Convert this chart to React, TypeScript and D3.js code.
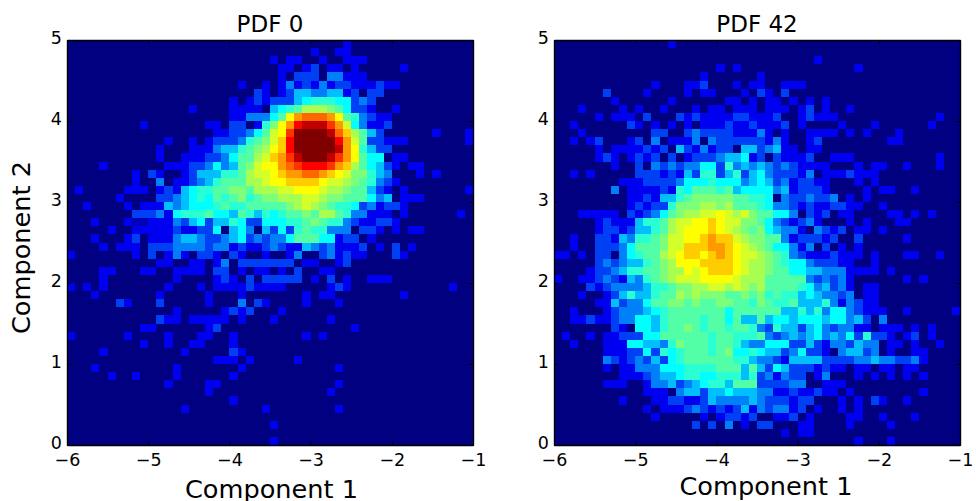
import React, { useEffect, useRef } from "react";
import * as d3 from "d3";

// intensity level per histogram cell, top row first, one base-36 digit per cell (0 = empty, j = peak).
// rows are grouped in tens, missing trailing cells are empty
const pdf0Rows = [
  "0000000000 0000000000 0000000000 0000200000",
  "0000000000 0000000000 0000000000 2002200000",
  "0000000000 0000000000 0000020220 0200222000",
  "0000000000 0000000000 0000002202 3022020000 0200000000",
  "0000000000 0000000000 0000002033 3044222000",
  "0000000000 0000000000 0200202423 2423322232 2000000000",
  "0000000000 0000000000 0003202355 4455230330",
  "0000000000 0000000000 2023233356 7776634300",
  "0000000000 0000020000 222205678a aa98633200 2000000000",
  "0000000000 0000000000 2244468cef ffec874322",
  "0000000002 0000000220 330279cehi iigeb64223",
  "0000000000 0000000022 33468bcgjj jjifda8530 0000020002",
  "0000000000 0020020233 34789bdhjj jjjheb8332 2200000002",
  "0000000000 0200022245 5789acdhjj jjjiec7533",
  "0000000000 0200222334 688abdegij jjigec8660 2200000000",
  "0000200000 0022233464 589bccefgh hhgeda8653 2022000000",
  "0000000020 3200235557 78abbcdeef fedcb99754 0002020000",
  "0000000020 0402234578 88aabccddd dcbba98743 2000000000",
  "0200000222 0232567788 998aaabbcc cbaa988532 0200000002",
  "0000002000 0334567687 897899aaab ba99888645 0222000000",
  "0020000202 2254566678 77888889ab a987763423 3200000000",
  "0000000033 3426777866 5875767889 8aa8744222 0200000020",
  "0002000211 2224356355 7633666778 9877432233 2000000000",
  "0000020022 2223223360 5640536378 7744403320 2022000000",
  "0002000230 2224554334 5634344688 8662330200",
  "0000202220 3334444344 2322343225 4342223020 3020000000",
  "2000000020 3024203320 3200200240 0342322000 3200000000",
  "0000000000 0220022024 0333333302 2002300000",
  "0000220002 2002222033 0202202030 0220000000",
  "0000200000 0002000023 2030333330 2030200222",
  "2020200000 0020002022 2232222000 0023200000 0000000200",
  "0002000000 0200000200 0200000002 0220000000 0200000000",
  "0000003200 0300000200 0403200002 0002000000",
  "0000000000 0002000002 3230002000",
  "0000000000 0322022222 0200020000 0020000000",
  "0000000002 2000000230 0000000000 0000020000",
  "2000000200 0020002200 2000000002 0200000000",
  "0000000002 0020022000 2000000000",
  "0000200000 0000200000 3200000000",
  "0000000000 0000000022 2020000020",
  "0002000000 0002000000 0200000000 0002000000",
  "0000020020 0002000000 2000000000",
  "0000000000 0020000220 0000000000 0002000000",
  "0000000000 0000000200 0000000000 0020000000",
  "0000000000 0000000000 2000000000",
  "0000000000 0000200000 0000200000 0002000000",
  "",
  "0000000000 0000000000 0000020000",
  "",
  "0000000000 0000000000 0000020000",
];

const pdf42Rows = [
  "0000000000 0000200000",
  "",
  "0000000000 0000000000 0000000000 0020000000",
  "0000000000 0000000000 2020000000 0000000200",
  "0000000000 0000000020 0000020000",
  "0000000000 0020002230 0020220022 2000000000",
  "0000003000 0200002022 0002032030",
  "0000000200 0000200000 0220202202 0202000000",
  "0002000020 2002000202 2022202220 2302002000",
  "0000020222 0300032322 2233222300 2322200000 0000000200",
  "0020000003 2020202022 2322322230 2000020002 0000002000",
  "0002000000 0033003433 3322242020 0222202020 0020000000",
  "0020230002 3040222404 3333332420 0230000000 0220000000",
  "0000020222 2323053242 3305534522 0220000000",
  "0000023202 3230302333 4556230322 2300222000 0000000200",
  "0000000200 3043434466 3745454343 2222000202 2002000200",
  "0020200000 3332325377 3573564333 2402223222",
  "0000000022 2333346667 6664565342 3322000202",
  "0000000402 2223276888 7856666452 3332000020 2200200000",
  "0000000002 2325578999 9988776043 3433402020",
  "0000000002 32337999aa 9a88876443 2322332200 2000000000",
  "0002222203 234689aabb cbab988664 0323022000 0220202000",
  "0000023222 5778abbccd cbb9986432 3420002020 0022000000",
  "0000023323 5578abcccd cba9896544 2043230220 2000000000",
  "0020033254 7789bbccde ddba998842 3332300300 0002000000",
  "0020033346 8889bbddde edcba98664 2403020200",
  "2202033046 788abcddcd edcbba9874 3222322202 0002200200",
  "0000034345 5789acccdd ddcbaa9876 6433322002",
  "0000233457 7889aacbcd ddcbaa9886 6554442222 0200000000",
  "2002234325 4789abbbcc ccbaaa8888 8434342000 0002020000",
  "0000323444 4577899aab baba9a8888 7645342022",
  "0002002357 55788a9a99 9889897877 5654434022",
  "0000022534 4688998988 9988798778 5557424322",
  "0020002344 4567888888 8688888855 7574664322 2002000002",
  "0022322344 6657888878 8685585665 6665664530 4000000000",
  "0000000320 6657889878 8788743755 3564344220 2220202000",
  "0200202233 3668888887 8877784345 4564546373 3202302000",
  "0020002226 6554798887 8875446663 3532443544 0220200200",
  "0000002223 3637678887 8966765534 6332045534 0200220000",
  "0000004323 4353678888 8877544325 5553333445 4433420000",
  "0000002022 4446667777 8885853653 3323220220 2202200000",
  "0000000022 2345567766 7775734243 3024000202 0202020000",
  "0000002220 0244534567 7588833334 4002220000",
  "0000000000 0222045535 5655544223 2232202000 0000020000",
  "0000000020 0022332235 4444543332 3300020203 2002000000",
  "0000000000 0202223432 3235243442 3020020200",
  "0000000000 0020000020 2332300223 0200002200 2000200000",
  "0000000000 0000000303 0402033000 2200002000 0200000000",
  "0000000000 0000000000 0000000020 2200000000",
  "0000000000 0000000000 0000000000 0000000200 0200000000",
];

const xTicks = [-6, -5, -4, -3, -2, -1];
const yTicks = [0, 1, 2, 3, 4, 5];

const binCount = 50;
const fontFamily = "'DejaVu Sans', sans-serif";

const parseRow = (row: string) =>
  row
    .replace(/ /g, "")
    .padEnd(binCount, "0")
    .split("")
    .map((d) => parseInt(d, 36));

// jet colormap placed on the intensity levels
const colorScale = d3
  .scaleLinear<string>()
  .domain([0, 2, 6, 9, 12, 17, 19])
  .range(["#000080", "#0000f1", "#00ffff", "#7dff7a", "#ffff00", "#ff0000", "#800000"]);

const binIndex = d3.range(binCount);

const panels = [
  { title: "PDF 0", rows: pdf0Rows, left: 67, right: 473, xLabelX: 271.5, xLabelY: 498, yLabel: "Component 2" },
  { title: "PDF 42", rows: pdf42Rows, left: 554, right: 960, xLabelX: 766, xLabelY: 495, yLabel: null },
];

export default function App() {
  const svgRef = useRef<SVGSVGElement>(null);

  useEffect(() => {
    const svg = d3.select(svgRef.current);
    svg.selectAll("*").remove();
    const top = 40;
    const bottom = 445;

    panels.forEach((panel) => {
      const x = d3.scaleLinear().domain([-6, -1]).range([panel.left, panel.right]);
      const y = d3.scaleLinear().domain([0, 5]).range([bottom, top]);
      const colBand = d3.scaleBand<number>().domain(binIndex).range([panel.left, panel.right]);
      const rowBand = d3.scaleBand<number>().domain(binIndex).range([top, bottom]);
      const g = svg.append("g");

      // cells
      panel.rows.forEach((row, r) => {
        g.append("g")
          .selectAll("rect")
          .data(parseRow(row))
          .join("rect")
          .attr("x", (_, c) => colBand(c)!)
          .attr("y", rowBand(r)!)
          .attr("width", colBand.bandwidth() + 0.5)
          .attr("height", rowBand.bandwidth() + 0.5)
          .attr("fill", (d) => colorScale(d))
          .attr("shape-rendering", "crispEdges");
      });

      const tickLen = -4;
      const intFormat = d3.format("d");
      const styleAxis = (a: any) => {
        a.selectAll("text")
          .attr("font-family", fontFamily)
          .attr("font-size", 17.5)
          .attr("fill", "#000");
        a.selectAll("line").attr("stroke", "#000").attr("stroke-width", 1);
        a.select(".domain").attr("stroke", "#000").attr("stroke-width", 1.4);
      };

      g.append("g")
        .attr("transform", `translate(0,${bottom})`)
        .call(
          d3.axisBottom(x).tickValues(xTicks).tickSize(tickLen).tickSizeOuter(0).tickPadding(9).tickFormat(intFormat as any)
        )
        .call(styleAxis);
      g.append("g")
        .attr("transform", `translate(0,${top})`)
        .call(d3.axisTop(x).tickValues(xTicks).tickSize(tickLen).tickSizeOuter(0).tickFormat(() => ""))
        .call(styleAxis);
      const leftAxis = g
        .append("g")
        .attr("transform", `translate(${panel.left},0)`)
        .call(
          d3.axisLeft(y).tickValues(yTicks).tickSize(tickLen).tickSizeOuter(0).tickPadding(5).tickFormat(intFormat as any)
        )
        .call(styleAxis);
      leftAxis.selectAll("text").attr("y", -2);
      g.append("g")
        .attr("transform", `translate(${panel.right},0)`)
        .call(d3.axisRight(y).tickValues(yTicks).tickSize(tickLen).tickSizeOuter(0).tickFormat(() => ""))
        .call(styleAxis);

      const midX = (panel.left + panel.right) / 2;
      g.append("text")
        .attr("x", midX)
        .attr("y", 32)
        .attr("text-anchor", "middle")
        .attr("font-family", fontFamily)
        .attr("font-size", 23)
        .text(panel.title);
      g.append("text")
        .attr("x", panel.xLabelX)
        .attr("y", panel.xLabelY)
        .attr("text-anchor", "middle")
        .attr("font-family", fontFamily)
        .attr("font-size", 25.6)
        .text("Component 1");
      if (panel.yLabel) {
        g.append("text")
          .attr("transform", `translate(30,${(top + bottom) / 2 + 5}) rotate(-90)`)
          .attr("text-anchor", "middle")
          .attr("font-family", fontFamily)
          .attr("font-size", 25.6)
          .text(panel.yLabel);
      }
    });
  }, []);

  return (
    <svg
      ref={svgRef}
      width={976}
      height={501}
      style={{ position: "absolute", left: 0, top: 0, background: "#fff" }}
    />
  );
}
